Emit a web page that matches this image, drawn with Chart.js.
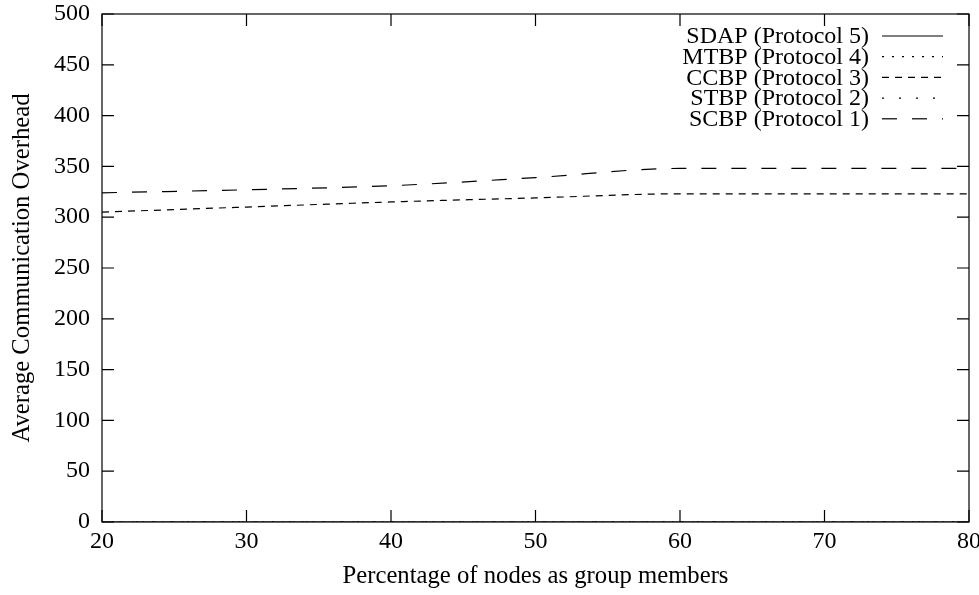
<!DOCTYPE html>
<html>
<head>
<meta charset="utf-8">
<script src="https://cdn.jsdelivr.net/npm/chart.js@4/dist/chart.umd.min.js"></script>
<style>
  html, body { margin: 0; padding: 0; background: #fff; overflow: hidden; }
  #wrap { width: 979px; height: 595px; position: relative; }
</style>
</head>
<body>
<div id="wrap"><canvas id="c" width="979" height="595"></canvas></div>
<script>
const xValues = [20, 30, 40, 50, 60, 70, 80];
const sdap = [0, 0, 0, 0, 0, 0, 0];
const mtbp = [0, 0, 0, 0, 0, 0, 0];
const ccbp = [305, 310, 315, 319, 323, 323, 323];
const stbp = [0, 0, 0, 0, 0, 0, 0];
const scbp = [324, 327, 331, 339, 348, 348, 348];
const seriesLabels = ['SDAP (Protocol 5)', 'MTBP (Protocol 4)', 'CCBP (Protocol 3)', 'STBP (Protocol 2)', 'SCBP (Protocol 1)'];
const seriesDashes = [[], [2, 8], [7, 6], [2, 15], [15, 15]];
const seriesValues = [sdap, mtbp, ccbp, stbp, scbp];
const xTicks = [20, 30, 40, 50, 60, 70, 80];
const yTicks = [0, 50, 100, 150, 200, 250, 300, 350, 400, 450, 500];
const xTitle = 'Percentage of nodes as group members';
const yTitle = 'Average Communication Overhead';

const FONT = 'Liberation Serif, Times New Roman, serif';
const FS = 24;
const TFS = 24.7;

const datasets = seriesLabels.map((lab, i) => ({
  label: lab,
  data: xValues.map((x, j) => ({ x: x, y: seriesValues[i][j] })),
  borderColor: '#000',
  borderWidth: 1.2,
  borderDash: seriesDashes[i],
  pointRadius: 0,
  fill: false,
  cubicInterpolationMode: 'monotone'
}));

const framePlugin = {
  id: 'frame',
  afterDraw(chart) {
    const ctx = chart.ctx;
    const a = chart.chartArea;
    const xs = chart.scales.x, ys = chart.scales.y;
    ctx.save();
    ctx.strokeStyle = '#000';
    ctx.lineWidth = 1.2;
    ctx.setLineDash([]);
    ctx.strokeRect(a.left, a.top, a.right - a.left, a.bottom - a.top);
    const L = 12;
    ctx.beginPath();
    xTicks.forEach(v => {
      const px = xs.getPixelForValue(v);
      ctx.moveTo(px, a.bottom); ctx.lineTo(px, a.bottom - L);
      ctx.moveTo(px, a.top); ctx.lineTo(px, a.top + L);
    });
    yTicks.forEach(v => {
      const py = ys.getPixelForValue(v);
      ctx.moveTo(a.left, py); ctx.lineTo(a.left + L, py);
      ctx.moveTo(a.right, py); ctx.lineTo(a.right - L, py);
    });
    ctx.stroke();

    // gnuplot-style key
    ctx.font = FS + 'px ' + FONT;
    ctx.textAlign = 'right';
    ctx.textBaseline = 'middle';
    ctx.fillStyle = '#000';
    chart.data.datasets.forEach((ds, i) => {
      const y = a.top + 22 + i * 20.7;
      ctx.fillText(ds.label, a.right - 100, y + 1);
      ctx.beginPath();
      ctx.setLineDash(ds.borderDash || []);
      ctx.lineWidth = 1.2;
      ctx.moveTo(a.right - 87, y);
      ctx.lineTo(a.right - 26, y);
      ctx.stroke();
    });
    ctx.restore();
  }
};

new Chart(document.getElementById('c'), {
  type: 'line',
  data: { datasets: datasets },
  options: {
    responsive: false,
    animation: false,
    layout: { padding: { left: 0, top: 14, right: 10, bottom: 0 } },
    plugins: { legend: { display: false }, tooltip: { enabled: false } },
    scales: {
      x: {
        type: 'linear',
        min: 20, max: 80,
        afterBuildTicks: s => { s.ticks = xTicks.map(v => ({ value: v })); },
        afterFit: s => { s.height = 73; s.paddingLeft = 0; s.paddingRight = 0; },
        grid: { display: false, drawTicks: false },
        border: { display: false },
        ticks: { color: '#000', padding: 5, font: { family: FONT, size: FS }, maxRotation: 0, autoSkip: false },
        title: { display: true, text: xTitle, color: '#000', font: { family: FONT, size: TFS }, padding: { top: 0, bottom: 4 } }
      },
      y: {
        type: 'linear',
        min: 0, max: 500,
        afterBuildTicks: s => { s.ticks = yTicks.map(v => ({ value: v })); },
        afterFit: s => { s.width = 102; s.paddingTop = 0; s.paddingBottom = 0; },
        grid: { display: false, drawTicks: false },
        border: { display: false },
        ticks: { color: '#000', padding: 12, font: { family: FONT, size: FS }, autoSkip: false },
        title: { display: true, text: yTitle, color: '#000', font: { family: FONT, size: TFS }, padding: { top: 8, bottom: 0 } }
      }
    }
  },
  plugins: [framePlugin]
});
</script>
</body>
</html>
